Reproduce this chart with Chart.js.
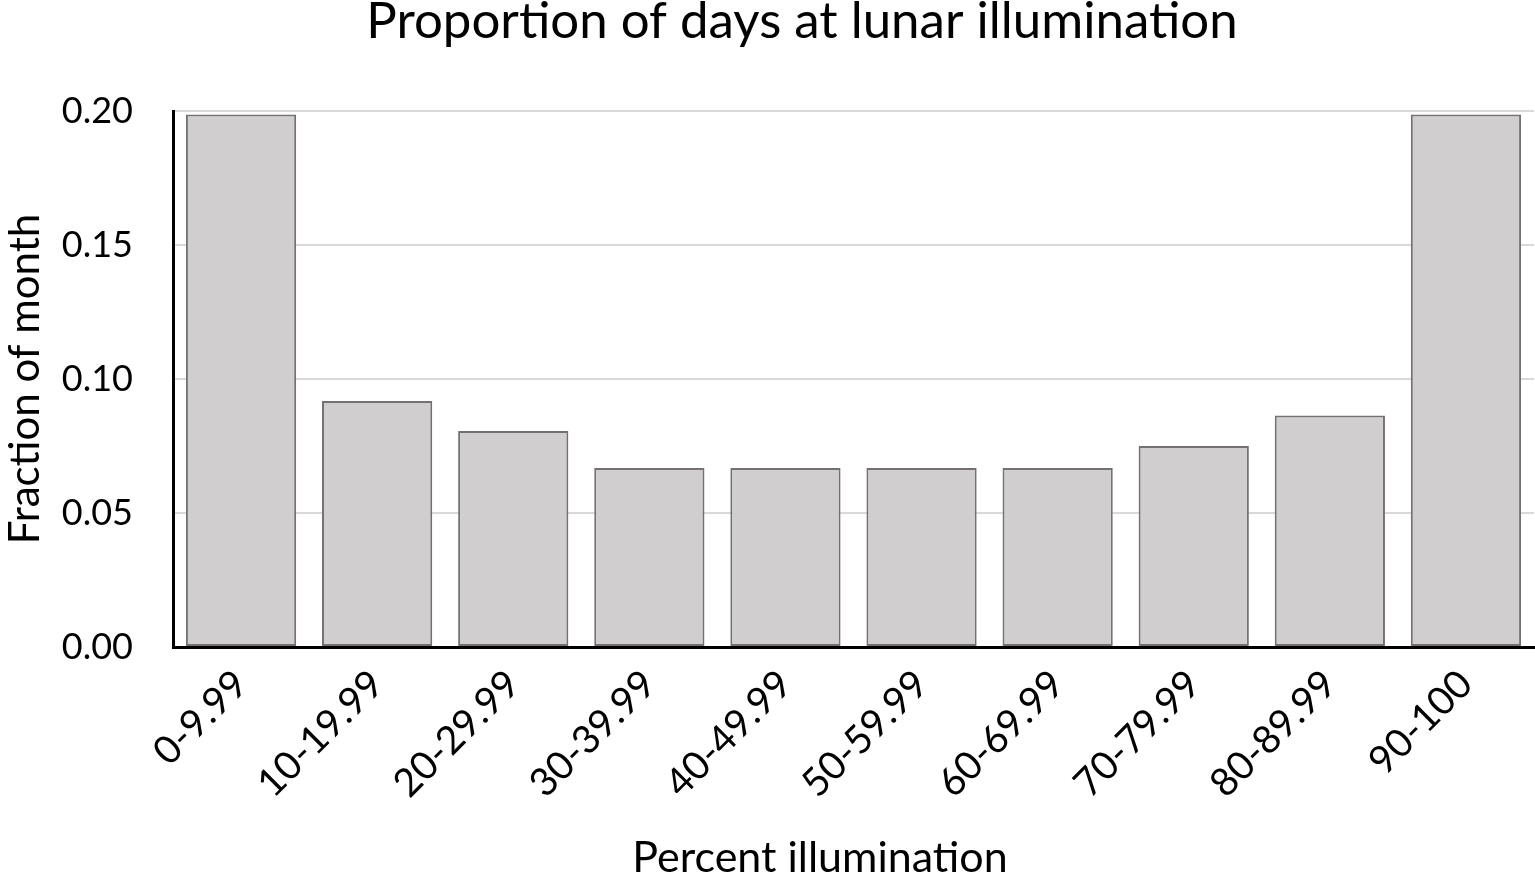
<!DOCTYPE html>
<html>
<head>
<meta charset="utf-8">
<script src="https://cdn.jsdelivr.net/npm/chart.js@4.4.0/dist/chart.umd.min.js"></script>
<style>
  html, body { margin: 0; padding: 0; background: #fff; }
  #wrap { width: 1535px; height: 880px; }
</style>
</head>
<body>
<div id="wrap"><canvas id="chart"></canvas></div>
<script>
// values
const categories = ['0-9.99', '10-19.99', '20-29.99', '30-39.99', '40-49.99',
                    '50-59.99', '60-69.99', '70-79.99', '80-89.99', '90-100'];
const fractionOfMonth = [0.1987, 0.0918, 0.0806, 0.0668, 0.0668,
                         0.0668, 0.0668, 0.0750, 0.0864, 0.1987];
const yTicks = [0, 0.05, 0.10, 0.15, 0.20];

const chartTitle = 'Proportion of days at lunar illumination';
const xTitle = 'Percent illumination';
const yTitle = 'Fraction of month';

const FONT = 'Lato';

// title + x axis title are drawn by hand so they sit where Excel put them
const textPlugin = {
    id: 'texts',
    afterDraw(chart) {
        const ctx = chart.ctx;
        ctx.save();
        ctx.fillStyle = '#000';
        ctx.textAlign = 'center';
        ctx.textBaseline = 'middle';
        ctx.font = '51px ' + FONT;
        ctx.fillText(chartTitle, 802, 22);
        ctx.font = '43px ' + FONT;
        ctx.fillText(xTitle, 820, 858);
        ctx.restore();
    }
};

new Chart(document.getElementById('chart'), {
    type: 'bar',
    data: {
        labels: categories,
        datasets: [{
            data: fractionOfMonth,
            backgroundColor: '#d0cece',
            borderColor: '#767171',
            borderWidth: 2,
            borderSkipped: false,
            categoryPercentage: 1,
            barPercentage: 0.81
        }]
    },
    options: {
        responsive: true,
        maintainAspectRatio: false,
        animation: false,
        layout: { padding: { top: 111, right: 1, left: 0, bottom: 0 } },
        plugins: {
            legend: { display: false },
            tooltip: { enabled: false }
        },
        scales: {
            x: {
                grid: { display: false, drawTicks: false },
                border: { color: '#000', width: 3 },
                ticks: {
                    color: '#000',
                    font: { family: FONT, size: 39 },
                    minRotation: 45,
                    maxRotation: 45,
                    padding: 14
                },
                afterFit(scale) { scale.height = 880 - 647; }
            },
            y: {
                min: 0,
                max: 0.2,
                afterBuildTicks(scale) { scale.ticks = yTicks.map(v => ({ value: v })); },
                grid: { color: '#d9d9d9', lineWidth: 2, drawTicks: false },
                border: { color: '#000', width: 3 },
                ticks: {
                    color: '#000',
                    font: { family: FONT, size: 36 },
                    padding: 40,
                    callback: v => v.toFixed(2)
                },
                title: {
                    display: true,
                    text: yTitle,
                    color: '#000',
                    font: { family: FONT, size: 42 },
                    padding: 0
                },
                afterFit(scale) { scale.width = 173; }
            }
        }
    },
    plugins: [textPlugin]
});
</script>
</body>
</html>
